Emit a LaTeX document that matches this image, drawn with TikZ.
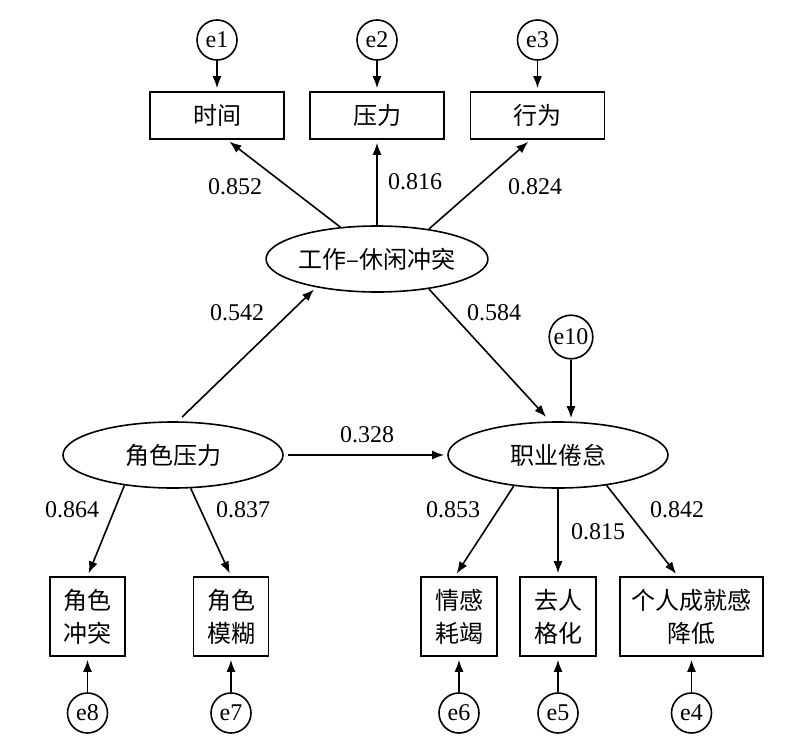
\documentclass[tikz,border=0pt]{standalone}
\usepackage{fontspec}
\setmainfont{Liberation Serif}
\newfontfamily\cjk{Noto Sans CJK SC}
\usetikzlibrary{arrows.meta,shapes.geometric}

\tikzset{
  latent/.style={draw, ellipse, line width=0.8pt, minimum width=110pt, minimum height=33pt, inner sep=0pt, font=\cjk\fontsize{12}{16}\selectfont},
  observed/.style={draw, rectangle, line width=0.8pt, inner sep=0pt, align=center, font=\cjk\fontsize{12}{16.5}\selectfont},
  errc/.style={draw, circle, line width=0.8pt, minimum size=20pt, inner sep=1pt, font=\fontsize{12}{14}\selectfont},
  effect/.style={-{Latex[length=6pt,width=4.5pt]}, line width=0.8pt, shorten >=1.5pt},
  coef/.style={font=\fontsize{12}{14}\selectfont}
}

\begin{document}
\begin{tikzpicture}[x=0.5pt, y=-0.5pt]
    \useasboundingbox (0,0) rectangle (791,744);

    % Error terms, top
    \node[errc] (e1) at (217,40) {e1};
    \node[errc] (e2) at (377,40) {e2};
    \node[errc] (e3) at (537.5,40) {e3};

    % Indicators of work-leisure conflict
    \node[observed, minimum width=67pt, minimum height=23.5pt] (time) at (217,115.5) {时间};
    \node[observed, minimum width=67pt, minimum height=23.5pt] (pressure) at (377,115.5) {压力};
    \node[observed, minimum width=67pt, minimum height=23.5pt] (behavior) at (537.5,115.5) {行为};

    % Latent variables
    \node[latent] (wlc) at (377,259) {工作–休闲冲突};
    \node[latent] (role) at (173,455) {角色压力};
    \node[latent] (burnout) at (558,455) {职业倦怠};
    \node[errc] (e10) at (571,337) {e10};

    % Indicators, bottom
    \node[observed, minimum width=37.5pt, minimum height=39.5pt] (conflict) at (87.5,616.5) {角色\\冲突};
    \node[observed, minimum width=37.5pt, minimum height=39.5pt] (ambiguity) at (231,616.5) {角色\\模糊};
    \node[observed, minimum width=38pt, minimum height=39.5pt] (exhaustion) at (459,616.5) {情感\\耗竭};
    \node[observed, minimum width=38pt, minimum height=39.5pt] (depers) at (558,616.5) {去人\\格化};
    \node[observed, minimum width=71.5pt, minimum height=39.5pt] (accomplish) at (691.5,616.5) {个人成就感\\降低};

    % Error terms, bottom
    \node[errc] (e8) at (87.5,713) {e8};
    \node[errc] (e7) at (231,713) {e7};
    \node[errc] (e6) at (459,713) {e6};
    \node[errc] (e5) at (558,713) {e5};
    \node[errc] (e4) at (691.5,713) {e4};

    % Error arrows
    \draw[effect] (e1) -- (time);
    \draw[effect] (e2) -- (pressure);
    \draw[effect] (e3) -- (behavior);
    \draw[effect] (e10) -- (e10 |- burnout.north);
    \draw[effect] (e8) -- (conflict);
    \draw[effect] (e7) -- (ambiguity);
    \draw[effect] (e6) -- (exhaustion);
    \draw[effect] (e5) -- (depers);
    \draw[effect] (e4) -- (accomplish);

    % Loadings
    \draw[effect] (wlc.139) -- ([xshift=5pt]time.south);
    \draw[effect] (wlc.north) -- (pressure.south);
    \draw[effect] (wlc.30) -- ([xshift=-3.5pt]behavior.south);
    \draw[effect] (role.212) -- (conflict.north);
    \draw[effect] (role.-62) -- (ambiguity.north);
    \draw[effect] (burnout.215) -- ([xshift=-2pt]exhaustion.north);
    \draw[effect] (burnout.south) -- (depers.north);
    \draw[effect] (burnout.-32) -- ([xshift=-6.75pt]accomplish.north);

    % Structural paths
    \draw[effect, shorten <=3pt] (role.82) -- (wlc.205);
    \draw[effect, shorten >=3pt] (wlc.-30) -- (burnout.103);
    \draw[effect, shorten <=2pt] (role.east) -- (burnout.west);

    % Coefficients
    \node[coef] (c852) at (235,187) {0.852};
    \node[coef] (c816) at (415,182) {0.816};
    \node[coef] (c824) at (535,187) {0.824};
    \node[coef] (c542) at (237,313) {0.542};
    \node[coef] (c584) at (494,313) {0.584};
    \node[coef] (c328) at (367,435) {0.328};
    \node[coef] (c864) at (72,510) {0.864};
    \node[coef] (c837) at (243,510) {0.837};
    \node[coef] (c853) at (453,510) {0.853};
    \node[coef] (c815) at (598,532) {0.815};
    \node[coef] (c842) at (677,510) {0.842};

\end{tikzpicture}
\end{document}
